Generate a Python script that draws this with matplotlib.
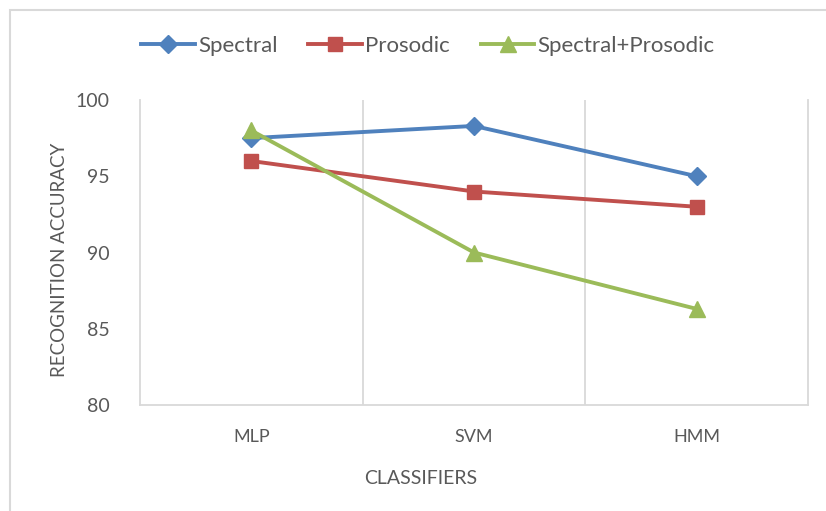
import matplotlib
matplotlib.use("Agg")
import matplotlib.pyplot as plt
from matplotlib.patches import Rectangle

classifiers = ["MLP", "SVM", "HMM"]
spectral = [97.5, 98.3, 95.0]
prosodic = [96.0, 94.0, 93.0]
combined = [98.0, 90.0, 86.3]
y_ticks = [80, 85, 90, 95, 100]

plt.rcParams["font.family"] = ["Lato", "DejaVu Sans"]
text_color = "#595959"
grid_color = "#D9D9D9"

W, H = 826, 511
fig = plt.figure(figsize=(W / 100, H / 100), dpi=100)
fig.patch.set_facecolor("white")

# outer chart border
fig.add_artist(Rectangle((10 / W, -0.05), 1.2, 1 - 9.5 / H + 0.05,
                         transform=fig.transFigure, fill=False,
                         edgecolor=grid_color, linewidth=1.5))

ax = fig.add_axes([140 / W, 1 - 405 / H, (808 - 140) / W, (405 - 100) / H])
x = list(range(len(classifiers)))

ax.plot(x, spectral, color="#4F81BD", lw=2.8, marker="D", ms=9,
        label="Spectral", zorder=3)
ax.plot(x, prosodic, color="#C0504D", lw=2.8, marker="s", ms=10.5,
        label="Prosodic", zorder=3)
ax.plot(x, combined, color="#9BBB59", lw=2.8, marker="^", ms=11.5,
        label="Spectral+Prosodic", zorder=3)

ax.set_xlim(-0.5, len(classifiers) - 0.5)
ax.set_ylim(80, 100)
ax.set_yticks(y_ticks)
ax.set_xticks(x)
ax.set_xticklabels(classifiers)

# vertical gridlines between categories
for b in [i + 0.5 for i in range(len(classifiers) - 1)]:
    ax.axvline(b, color=grid_color, lw=1.3, zorder=1)

for side in ["left", "bottom", "right"]:
    ax.spines[side].set_color(grid_color)
    ax.spines[side].set_linewidth(1.3)
ax.spines["top"].set_visible(False)

ax.tick_params(axis="both", length=0, colors=text_color)
ax.tick_params(axis="y", labelsize=14, pad=22)
ax.tick_params(axis="x", labelsize=13, pad=17)

fig.text(421 / W, 1 - 478 / H, "CLASSIFIERS", ha="center", va="center",
         fontsize=14, color=text_color)
fig.text(60 / W, 1 - 260 / H, "RECOGNITION ACCURACY", ha="center",
         va="center", rotation=90, fontsize=13.5, color=text_color)

leg = fig.legend(loc="center", bbox_to_anchor=(428 / W, 1 - 46 / H), ncol=3,
                 frameon=False, fontsize=16, handlelength=2.4,
                 columnspacing=1.4, handletextpad=0.15, labelcolor=text_color)

fig.savefig("out.png", dpi=100, facecolor="white")
